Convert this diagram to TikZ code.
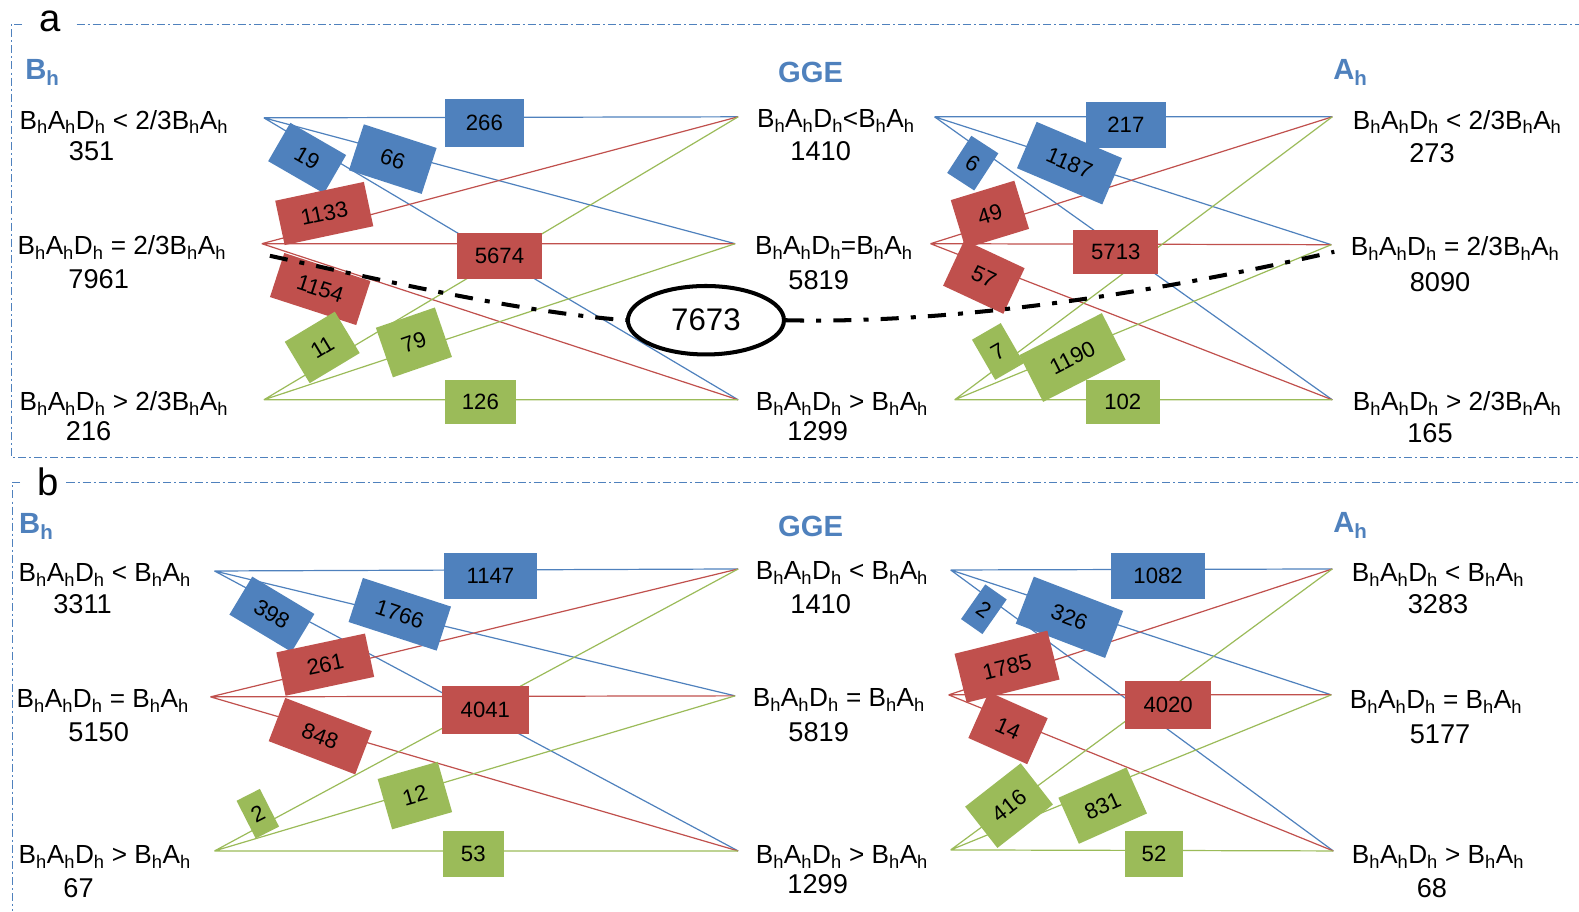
\documentclass[tikz,border=0pt]{standalone}
\usepackage{fontspec}
\setmainfont{Liberation Sans}
\usetikzlibrary{shapes.geometric}
\definecolor{gblue}{HTML}{4F81BD}
\definecolor{gred}{HTML}{C0504D}
\definecolor{ggreen}{HTML}{9BBB59}
\newcommand{\hs}{\textsubscript{h}}
\tikzset{
  lbl/.style={font=\fontsize{26}{28}\selectfont, inner sep=0pt},
  num/.style={font=\fontsize{27}{29}\selectfont, inner sep=0pt},
  hdr/.style={font=\bfseries\fontsize{29}{31}\selectfont, text=gblue, inner sep=0pt},
  plabel/.style={font=\fontsize{38}{40}\selectfont, inner sep=0pt},
  bx/.style={inner sep=0pt, font=\fontsize{22}{24}\selectfont},
  sz/.style 2 args={minimum width=#1pt, minimum height=#2pt},
  ln/.style={line width=1.2pt},
  frame/.style={gblue, line width=1pt, dash pattern=on 8pt off 3pt on 2pt off 3pt},
  thick dd/.style={black, line width=4pt, dash pattern=on 18pt off 12pt on 5pt off 12pt},
}
\begin{document}
\begin{tikzpicture}[x=1pt,y=-1pt]
\useasboundingbox (0,0) rectangle (1568,905);
% frames
\coordinate (fa1) at (76,24); \coordinate (fa2) at (1568,24);
\coordinate (fa3) at (11,24); \coordinate (fa4) at (22,24);
\coordinate (fa5) at (11,454); \coordinate (fa6) at (1568,454);
\draw[frame] (fa1) -- (fa2);
\draw[frame] (fa4) -- (fa3) -- (fa5) -- (fa6);
\coordinate (fb1) at (66,479); \coordinate (fb2) at (1568,479);
\coordinate (fb3) at (12,479); \coordinate (fb4) at (20,479);
\coordinate (fb5) at (12,905);
\draw[frame] (fb1) -- (fb2);
\draw[frame] (fb4) -- (fb3) -- (fb5);
\node[plabel] (pa) at (50,21) {a};
\node[plabel] (pb) at (48,478) {b};

% ---------------- panel a hubs
\coordinate (aL1) at (262,117); \coordinate (aL2) at (260,242); \coordinate (aL3) at (262,397);
\coordinate (aM1) at (733,116); \coordinate (aM2) at (730,242); \coordinate (aM3) at (733,397);
\coordinate (aN1) at (928,116); \coordinate (aN2) at (924,242); \coordinate (aN3) at (948,397);
\coordinate (aR1) at (1323,116); \coordinate (aR2) at (1322,243); \coordinate (aR3) at (1323,397);
% panel a edges
\draw[ln,gblue] (aL1) -- (aM1) (aL1) -- (aM2) (aL1) -- (aM3);
\draw[ln,gred] (aL2) -- (aM1) (aL2) -- (aM2) (aL2) -- (aM3);
\draw[ln,ggreen] (aL3) -- (aM1) (aL3) -- (aM2) (aL3) -- (aM3);
\draw[ln,gblue] (aN1) -- (aR1) (aN1) -- (aR2) (aN1) -- (aR3);
\draw[ln,gred] (aN2) -- (aR1) (aN2) -- (aR2) (aN2) -- (aR3);
\draw[ln,ggreen] (aN3) -- (aR1) (aN3) -- (aR2) (aN3) -- (aR3);
% panel a boxes left
\node[bx, fill=gblue, sz={79}{47}] (a266) at (481,122) {266};
\node[bx, fill=gblue, sz={64}{44}, rotate=-30] (a19) at (305,157) {19};
\node[bx, fill=gblue, sz={76}{48}, rotate=-18] (a66) at (390,158) {66};
\node[bx, fill=gred, sz={90}{45}, rotate=12] (a1133) at (322,212) {1133};
\node[bx, fill=gred, sz={85}{46}] (a5674) at (496,254) {5674};
\node[bx, fill=gred, sz={90}{46}, rotate=-18] (a1154) at (318,287) {1154};
\node[bx, fill=ggreen, sz={58}{48}, rotate=31] (a11) at (320,345) {11};
\node[bx, fill=ggreen, sz={62}{52}, rotate=19] (a79) at (411,340) {79};
\node[bx, fill=ggreen, sz={71}{44}] (a126) at (477,399) {126};
% panel a boxes right
\node[bx, fill=gblue, sz={79}{45}] (a217) at (1118,124) {217};
\node[bx, fill=gblue, sz={92}{50}, rotate=-23] (a1187) at (1062,162) {1187};
\node[bx, fill=gblue, sz={32}{44}, rotate=-33] (a6) at (966,162) {6};
\node[bx, fill=gred, sz={66}{50}, rotate=17] (a49) at (983,213) {49};
\node[bx, fill=gred, sz={84}{44}] (a5713) at (1108,250) {5713};
\node[bx, fill=gred, sz={66}{50}, rotate=-25] (a57) at (977,275) {57};
\node[bx, fill=ggreen, sz={33}{46}, rotate=30] (a7) at (991,349) {7};
\node[bx, fill=ggreen, sz={92}{52}, rotate=27] (a1190) at (1065,355) {1190};
\node[bx, fill=ggreen, sz={73}{44}] (a102) at (1115,399) {102};
% dash-dot curve and ellipse
\node[ellipse, draw=black, line width=4pt, fill=white, minimum width=155pt, minimum height=68pt, inner sep=0pt, font=\fontsize{31}{33}\selectfont] (e7673) at (701,318) {7673};
\coordinate (dL) at (268,254);
\coordinate (dR) at (1325,250);
\draw[thick dd] (dL) .. controls (400,283) and (520,310) .. (e7673.west);
\draw[thick dd] (e7673.east) .. controls (950,322) and (1150,290) .. (dR);
% panel a text
\node[hdr] (aHB) at (42,72) {B\textsubscript{h}};
\node[hdr] (aHG) at (805,72) {GGE};
\node[hdr] (aHA) at (1341,72) {A\textsubscript{h}};
\node[lbl] (at1) at (123,121) {B\hs A\hs D\hs\ < 2/3B\hs A\hs};
\node[num] (an1) at (91,150) {351};
\node[lbl] (at2) at (121,246) {B\hs A\hs D\hs\ = 2/3B\hs A\hs};
\node[num] (an2) at (98,277) {7961};
\node[lbl] (at3) at (123,401) {B\hs A\hs D\hs\ > 2/3B\hs A\hs};
\node[num] (an3) at (88,428) {216};
\node[lbl] (am1) at (830,120) {B\hs A\hs D\hs<B\hs A\hs};
\node[num] (amn1) at (815,150) {1410};
\node[lbl] (am2) at (828,246) {B\hs A\hs D\hs=B\hs A\hs};
\node[num] (amn2) at (813,278) {5819};
\node[lbl] (am3) at (836,401) {B\hs A\hs D\hs\ > B\hs A\hs};
\node[num] (amn3) at (812,428) {1299};
\node[lbl] (ar1) at (1447,121) {B\hs A\hs D\hs\ < 2/3B\hs A\hs};
\node[num] (arn1) at (1422,152) {273};
\node[lbl] (ar2) at (1445,247) {B\hs A\hs D\hs\ = 2/3B\hs A\hs};
\node[num] (arn2) at (1430,280) {8090};
\node[lbl] (ar3) at (1447,401) {B\hs A\hs D\hs\ > 2/3B\hs A\hs};
\node[num] (arn3) at (1420,430) {165};

% ---------------- panel b hubs
\coordinate (bL1) at (213,567); \coordinate (bL2) at (209,692); \coordinate (bL3) at (213,845);
\coordinate (bM1) at (733,565); \coordinate (bM2) at (730,691); \coordinate (bM3) at (733,845);
\coordinate (bN1) at (944,566); \coordinate (bN2) at (942,690); \coordinate (bN3) at (944,844);
\coordinate (bR1) at (1323,565); \coordinate (bR2) at (1322,690); \coordinate (bR3) at (1324,845);
\draw[ln,gblue] (bL1) -- (bM1) (bL1) -- (bM2) (bL1) -- (bM3);
\draw[ln,gred] (bL2) -- (bM1) (bL2) -- (bM2) (bL2) -- (bM3);
\draw[ln,ggreen] (bL3) -- (bM1) (bL3) -- (bM2) (bL3) -- (bM3);
\draw[ln,gblue] (bN1) -- (bR1) (bN1) -- (bR2) (bN1) -- (bR3);
\draw[ln,gred] (bN2) -- (bR1) (bN2) -- (bR2) (bN2) -- (bR3);
\draw[ln,ggreen] (bN3) -- (bR1) (bN3) -- (bR2) (bN3) -- (bR3);
% panel b boxes left
\node[bx, fill=gblue, sz={93}{46}] (b1147) at (487,572) {1147};
\node[bx, fill=gblue, sz={72}{44}, rotate=-31] (b398) at (270,610) {398};
\node[bx, fill=gblue, sz={92}{46}, rotate=-18] (b1766) at (397,610) {1766};
\node[bx, fill=gred, sz={90}{44}, rotate=12] (b261) at (323,660) {261};
\node[bx, fill=gred, sz={86}{48}] (b4041) at (482,705) {4041};
\node[bx, fill=gred, sz={92}{46}, rotate=-21] (b848) at (318,731) {848};
\node[bx, fill=ggreen, sz={26}{42}, rotate=27] (b2g) at (256,808) {2};
\node[bx, fill=ggreen, sz={62}{52}, rotate=16] (b12) at (412,790) {12};
\node[bx, fill=ggreen, sz={60}{46}] (b53) at (470,848) {53};
% panel b boxes right
\node[bx, fill=gblue, sz={93}{46}] (b1082) at (1150,572) {1082};
\node[bx, fill=gblue, sz={26}{42}, rotate=-35] (b2b) at (977,605) {2};
\node[bx, fill=gblue, sz={95}{50}, rotate=-21] (b326) at (1062,613) {326};
\node[bx, fill=gred, sz={95}{50}, rotate=14] (b1785) at (1000,662) {1785};
\node[bx, fill=gred, sz={86}{48}] (b4020) at (1160,700) {4020};
\node[bx, fill=gred, sz={64}{50}, rotate=-24] (b14) at (1001,723) {14};
\node[bx, fill=ggreen, sz={70}{52}, rotate=38] (b416) at (1002,800) {416};
\node[bx, fill=ggreen, sz={74}{50}, rotate=24] (b831) at (1095,800) {831};
\node[bx, fill=ggreen, sz={58}{46}] (b52) at (1146,848) {52};
% panel b text
\node[hdr] (bHB) at (36,523) {B\textsubscript{h}};
\node[hdr] (bHG) at (805,523) {GGE};
\node[hdr] (bHA) at (1341,522) {A\textsubscript{h}};
\node[lbl] (bt1) at (104,571) {B\hs A\hs D\hs\ < B\hs A\hs};
\node[num] (bn1) at (82,600) {3311};
\node[lbl] (bt2) at (102,696) {B\hs A\hs D\hs\ = B\hs A\hs};
\node[num] (bn2) at (98,727) {5150};
\node[lbl] (bt3) at (104,851) {B\hs A\hs D\hs\ > B\hs A\hs};
\node[num] (bn3) at (78,882) {67};
\node[lbl] (bm1) at (836,569) {B\hs A\hs D\hs\ < B\hs A\hs};
\node[num] (bmn1) at (815,600) {1410};
\node[lbl] (bm2) at (833,695) {B\hs A\hs D\hs\ = B\hs A\hs};
\node[num] (bmn2) at (813,727) {5819};
\node[lbl] (bm3) at (836,851) {B\hs A\hs D\hs\ > B\hs A\hs};
\node[num] (bmn3) at (812,878) {1299};
\node[lbl] (br1) at (1428,571) {B\hs A\hs D\hs\ < B\hs A\hs};
\node[num] (brn1) at (1428,600) {3283};
\node[lbl] (br2) at (1426,697) {B\hs A\hs D\hs\ = B\hs A\hs};
\node[num] (brn2) at (1430,729) {5177};
\node[lbl] (br3) at (1428,851) {B\hs A\hs D\hs\ > B\hs A\hs};
\node[num] (brn3) at (1422,882) {68};
\end{tikzpicture}
\end{document}
